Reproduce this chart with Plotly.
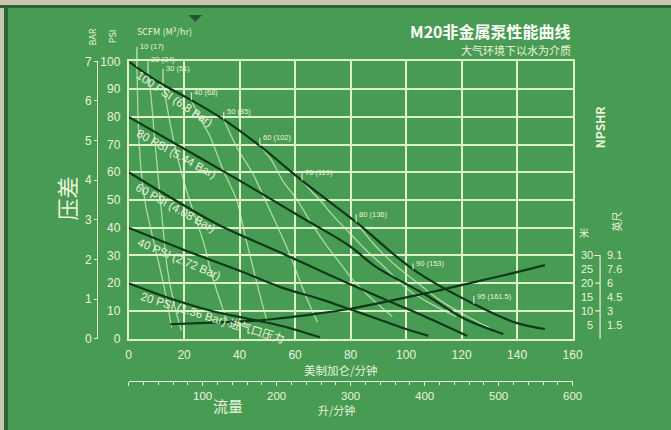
import plotly.graph_objects as go

# The page body keeps its default 8px margin, so the figure is drawn 16px smaller
# and all layout positions below are given in window pixels minus that offset.
WIN_W, WIN_H = 671, 430
OFF = 8
W, H = WIN_W - 2 * OFF, WIN_H - 2 * OFF

# ---------------- data ----------------
gpm_ticks = [0, 20, 40, 60, 80, 100, 120, 140, 160]
psi_ticks = [0, 10, 20, 30, 40, 50, 60, 70, 80, 90, 100]
bar_ticks = [0, 1, 2, 3, 4, 5, 6, 7]
lpm_ticks = [0, 100, 200, 300, 400, 500, 600]
lpm_labels = ["", "100", "200", "300", "400", "500", "600"]
npshr_ft_ticks = [5, 10, 15, 20, 25, 30]
npshr_ft_labels = ["5", "10", "15", "20", "25", "30"]
npshr_m_labels = ["1.5", "3", "4.5", "6", "7.6", "9.1"]

# air inlet pressure curves (flow GPM -> head PSI)
air100_x = [0, 10, 22.6, 34.3, 47.3, 62.5, 82, 102.5, 124.4, 140, 150]
air100_y = [100, 93, 86, 79, 69.5, 57, 42, 25, 12.5, 5.6, 3.5]
air80_x = [0, 20, 40, 63.6, 79.5, 89, 106.7, 120.8, 135]
air80_y = [80, 68.5, 57, 43, 33.5, 26, 16, 7.3, 1.7]
air60_x = [0, 20, 32.5, 53.7, 63.6, 79, 92.6, 106.7, 122]
air60_y = [60, 48, 41, 31.5, 27, 20, 14, 8, 1]
air40_x = [0, 20, 40, 55, 70, 80, 90, 100, 108]
air40_y = [40, 32, 24.5, 18.5, 14, 10.5, 7, 3.5, 1]
air20_x = [0, 15, 30, 44, 55.5, 69]
air20_y = [20, 14.5, 10, 7, 4.5, 0.5]

air_labels = ["100 PSI (6.8 Bar)", "80 PSI (5.44 Bar)", "60 PSI (4.08 Bar)",
              "40 PSI (2.72 Bar)", "20 PSI (1.36 Bar) 进气口压力"]
air_label_x = [16.6, 17.3, 17.0, 18.4, 30.5]
air_label_y = [86.4, 66.6, 47.0, 28.9, 7.6]
air_label_angle = [34, 29, 29, 23, 17]

# air consumption curves (SCFM)
scfm10_x = [3.0, 3.2, 3.6, 4.4, 6.0, 8.8, 12.5, 15.5]
scfm10_y = [98, 88, 75, 62, 49, 36, 20, 4]
scfm20_x = [7.0, 8.0, 9.2, 10.6, 12.2, 14.0, 16.5, 19.0]
scfm20_y = [95.7, 88, 74, 59, 42, 25, 12, 3]
scfm30_x = [12.4, 14.5, 17.7, 21.0, 24.7, 27.5, 29.3, 32.5, 36]
scfm30_y = [92.3, 80, 65, 53, 41.8, 33, 25.4, 15, 5]
scfm40_x = [22.6, 26, 29.3, 34, 38.9, 42, 44.9, 47.5, 50]
scfm40_y = [86, 79, 73, 61, 50, 37, 25.4, 15, 6]
scfm50_x = [34.3, 39, 44.9, 49, 53, 57, 60, 64, 68]
scfm50_y = [79, 69, 59.2, 50.5, 41.8, 33, 25.4, 15, 6]
scfm60_x = [47.3, 51.2, 55.5, 60.8, 65, 70.3, 76, 81, 88, 95]
scfm60_y = [69.5, 64.8, 57, 50, 43, 35, 27.5, 21, 14, 8]
scfm70_x = [62.5, 66, 68.9, 74, 79.5, 85.5, 91.5, 97, 103, 110, 118]
scfm70_y = [57, 53, 50, 44, 38.3, 32, 26.5, 21, 16, 12, 8]
scfm80_x = [82, 88, 95, 103, 112, 122, 130]
scfm80_y = [42, 34.5, 27.5, 21, 14, 8, 4]

scfm_labels = ["10 (17)", "20 (34)", "30 (51)", "40 (68)", "50 (85)",
               "60 (102)", "70 (119)", "80 (136)", "90 (153)", "95 (161.5)"]
scfm_label_x = [3.0, 7.0, 12.4, 22.6, 34.3, 47.3, 62.5, 82, 102.5, 124.4]
scfm_label_y = [98, 95.7, 92.3, 86, 79, 69.5, 57, 42, 25, 12.5]
scfm_label_lift = [20, 14, 14, 8, 8, 8, 8, 8, 6, 8]

# NPSHR curve (feet, same scale as PSI grid)
npshr_x = [15, 30, 45, 55, 65, 80, 95, 110, 125, 140, 150]
npshr_y = [5.2, 5.8, 6.4, 7.4, 8.6, 10.8, 13.8, 17, 20.5, 24, 26.5]

# ---------------- style ----------------
GREEN = "#489b52"
GRID = "#dcf2c6"
TXT = "#e9f4dc"
DARK = "#0e3a19"
LIGHT = "rgba(210,242,196,0.72)"
BEIGE = "#cbc6b2"
FRAME = "#2a6636"
LAT = "Liberation Sans, Arial, Noto Sans CJK SC, sans-serif"
CJK = "Noto Sans CJK SC, sans-serif"


def px(p):
    return (p - OFF) / W


def py(p):
    return 1 - (p - OFF) / H


fig = go.Figure()

for sx, sy in [(scfm10_x, scfm10_y), (scfm20_x, scfm20_y), (scfm30_x, scfm30_y),
               (scfm40_x, scfm40_y), (scfm50_x, scfm50_y), (scfm60_x, scfm60_y),
               (scfm70_x, scfm70_y), (scfm80_x, scfm80_y)]:
    fig.add_trace(go.Scatter(x=sx, y=sy, mode="lines", line=dict(color=LIGHT, width=1.3, shape="spline"),
                             hoverinfo="skip", showlegend=False))

for ax_, ay_ in [(air100_x, air100_y), (air80_x, air80_y), (air60_x, air60_y),
                 (air40_x, air40_y), (air20_x, air20_y)]:
    fig.add_trace(go.Scatter(x=ax_, y=ay_, mode="lines", line=dict(color=DARK, width=2.2, shape="spline"),
                             hoverinfo="skip", showlegend=False))

fig.add_trace(go.Scatter(x=npshr_x, y=npshr_y, mode="lines", yaxis="y3",
                         line=dict(color=DARK, width=2.2, shape="spline"),
                         hoverinfo="skip", showlegend=False))

# invisible traces to carry the secondary axes
fig.add_trace(go.Scatter(x=[0] * len(bar_ticks), y=bar_ticks, yaxis="y2", mode="markers",
                         marker=dict(opacity=0), hoverinfo="skip", showlegend=False))
fig.add_trace(go.Scatter(x=[0] * len(npshr_ft_ticks), y=npshr_ft_ticks, yaxis="y4", mode="markers",
                         marker=dict(opacity=0), hoverinfo="skip", showlegend=False))
fig.add_trace(go.Scatter(x=lpm_ticks, y=[0] * len(lpm_ticks), xaxis="x2", mode="markers",
                         marker=dict(opacity=0), hoverinfo="skip", showlegend=False))

annotations = []
for t, x, y, a in zip(air_labels, air_label_x, air_label_y, air_label_angle):
    annotations.append(dict(x=x, y=y, xref="x", yref="y", text=t, showarrow=False, textangle=a,
                            font=dict(family=LAT, size=11.5, color=TXT)))

for t, x, y, lift in zip(scfm_labels, scfm_label_x, scfm_label_y, scfm_label_lift):
    annotations.append(dict(x=x, y=y, xref="x", yref="y", text=" " + t, showarrow=True, arrowhead=0,
                            arrowwidth=1, arrowcolor=TXT, ax=0, ay=-lift, xanchor="left", yanchor="middle",
                            borderpad=0, standoff=0, startstandoff=0,
                            font=dict(family=LAT, size=7.5, color=TXT)))

texts = [
    ("<b>M20非金属泵性能曲线</b>", px(581), py(25), 16, "right", 0, "#ffffff"),
    ("大气环境下以水为介质", px(581), py(44), 11, "right", 0, TXT),
    ("<b>NPSHR</b>", px(608), py(124), 12, "center", -90, TXT),
    ("米", px(593), py(233), 10, "center", 0, TXT),
    ("英尺", px(626), py(222), 10, "center", -90, TXT),
    ("BAR", px(91), py(31), 9, "center", -90, TXT),
    ("PSI", px(111), py(30), 9, "center", -90, TXT),
    ("SCFM (M³/hr)", px(135), py(25), 9, "left", 0, TXT),
    ("压差", px(64), py(198), 22, "center", -90, TXT),
    ("美制加仑/分钟", px(345), py(375), 11.5, "center", 0, TXT),
    ("升/分钟", px(340), py(417), 11, "center", 0, TXT),
    ("流量", px(229), py(412), 15, "center", 0, TXT),
]
for t, x, y, s, xa, ang, col in texts:
    annotations.append(dict(x=x, y=y, xref="paper", yref="paper", text=t, showarrow=False,
                            xanchor=xa, yanchor="middle", textangle=ang,
                            font=dict(family=CJK, size=s, color=col)))

# decorations: NPSHR bracket and the small marker at the top edge
top_ft = max(npshr_ft_ticks)
bracket = "M {a},{t} L {b},{t} L {b},{z} L {a},{z}".format(a=px(603), b=px(609), t=top_ft, z=-0.7)
for v in npshr_ft_ticks[1::2][:-1]:
    bracket += " M {a},{v} L {b},{v}".format(a=px(604), b=px(609), v=v)

shapes = [
    dict(type="path", xref="paper", yref="paper",
         path="M {},{} L {},{} L {},{} Z".format(px(189), 1, px(203), 1, px(196), py(15)),
         fillcolor="#1f5a2c", line=dict(width=0), layer="above"),
    dict(type="path", xref="paper", yref="y", path=bracket, line=dict(color=TXT, width=1.2)),
]

fig.update_layout(
    width=W, height=H, margin=dict(l=0, r=0, t=0, b=0),
    paper_bgcolor=GREEN, plot_bgcolor=GREEN,
    showlegend=False,
    font=dict(family=LAT, color=TXT),
    xaxis=dict(domain=[px(128), px(581)], range=[0, 160], tickmode="array", tickvals=gpm_ticks,
               showgrid=True, gridcolor=GRID, gridwidth=1.8, zeroline=False,
               showline=True, mirror=True, linecolor=GRID, linewidth=1.8,
               ticks="", ticklabelstandoff=4, tickfont=dict(family=LAT, size=12, color=TXT),
               fixedrange=True),
    yaxis=dict(domain=[py(343), py(56)], range=[0, 100], tickmode="array", tickvals=psi_ticks,
               showgrid=True, gridcolor=GRID, gridwidth=1.8, zeroline=False,
               showline=True, mirror=True, linecolor=GRID, linewidth=1.8,
               ticks="", ticklabelstandoff=4, tickfont=dict(family=LAT, size=12, color=TXT),
               fixedrange=True),
    yaxis2=dict(overlaying="y", anchor="free", position=px(96), side="left", range=[0, 7],
                tickmode="array", tickvals=bar_ticks, showgrid=False, zeroline=False,
                showline=True, linecolor=GRID, linewidth=1.4, ticks="outside", ticklen=3,
                tickcolor=GRID, tickfont=dict(family=LAT, size=12, color=TXT), fixedrange=True),
    yaxis3=dict(overlaying="y", anchor="free", position=px(603), side="left", range=[0, 100],
                tickmode="array", tickvals=npshr_ft_ticks, ticktext=npshr_ft_labels,
                showgrid=False, zeroline=False, showline=False, ticks="",
                ticklabelstandoff=1, tickfont=dict(family=LAT, size=11, color=TXT), fixedrange=True),
    yaxis4=dict(overlaying="y", anchor="free", position=px(614), side="right", range=[0, 100],
                tickmode="array", tickvals=npshr_ft_ticks, ticktext=npshr_m_labels,
                showgrid=False, zeroline=False, showline=False, ticks="",
                ticklabelstandoff=1, tickfont=dict(family=LAT, size=11, color=TXT), fixedrange=True),
    xaxis2=dict(overlaying="x", anchor="free", position=py(387), side="bottom", range=[0, 600],
                tickmode="array", tickvals=lpm_ticks, ticktext=lpm_labels,
                showgrid=False, zeroline=False, showline=True, linecolor=TXT, linewidth=1.4,
                ticks="outside", ticklen=4, tickcolor=TXT, tickwidth=1.2,
                minor=dict(tickmode="linear", tick0=0, dtick=20, ticks="outside", ticklen=3,
                           tickcolor=TXT, showgrid=False),
                ticklabelstandoff=0, tickfont=dict(family=LAT, size=11.5, color=TXT), fixedrange=True),
    annotations=annotations,
    shapes=shapes,
)

page_bg = ("document.documentElement.style.background="
           "'linear-gradient(to bottom, {b} 0px, {b} 5px, {f} 5px, {f} 8px, transparent 8px),"
           " linear-gradient(to right, {b} 0px, {b} 4px, {f} 4px, {f} 8px, transparent 8px), {g}';"
           "document.documentElement.style.minHeight='100%';").format(b=BEIGE, f=FRAME, g=GREEN)

fig.write_html("out.html", config={"displayModeBar": False}, post_script=page_bg)
